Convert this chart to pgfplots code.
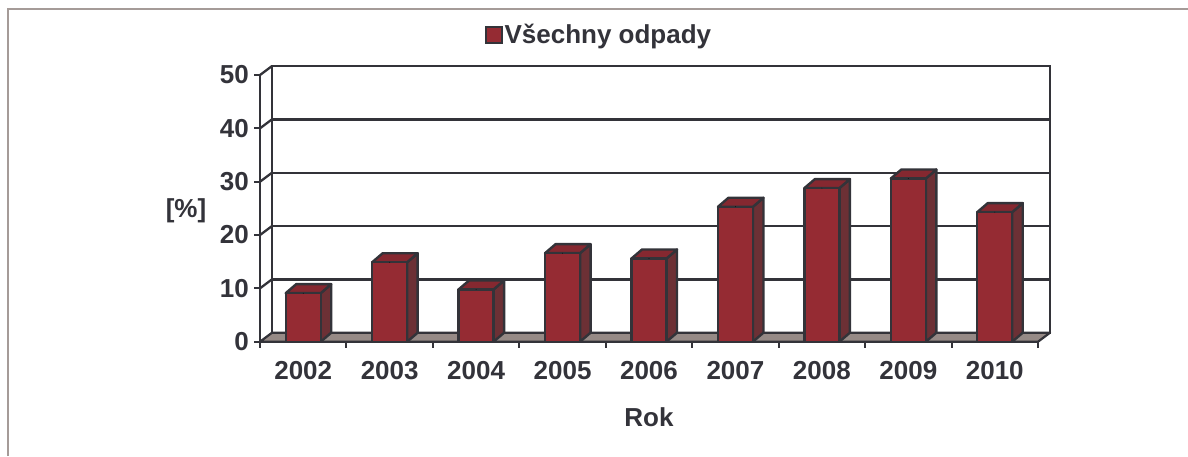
\documentclass[border=0pt]{standalone}
\usepackage{pgfplots}
\pgfplotsset{compat=1.18}
\usepackage{fontspec}
\setmainfont{Liberation Sans}
\definecolor{barfront}{RGB}{149,43,51}
\definecolor{barside}{RGB}{108,48,53}
\definecolor{bartop}{RGB}{133,40,48}
\definecolor{edge}{RGB}{51,51,57}
\definecolor{floorc}{RGB}{150,138,134}
\definecolor{framec}{RGB}{165,155,152}
\definecolor{txt}{RGB}{51,51,58}
\newcommand\bigfont{\bfseries\fontsize{26}{30}\selectfont}
\begin{document}
\begin{tikzpicture}
\fill[white] (0pt,0pt) rectangle (1188pt,456pt);
\path[use as bounding box] (0pt,0pt) rectangle (1188pt,456pt);
\draw[framec, line width=2.5pt] (8pt,0pt) -- (8pt,447pt) -- (1188pt,447pt);
% back wall
\begin{axis}[at={(272pt,123.3pt)}, anchor=south west, scale only axis,
  width=778pt, height=266.667pt,
  xmin=-0.5, xmax=8.5, ymin=0, ymax=50,
  xtick=\empty, ytick={10,20,30,40}, yticklabels={}, major tick length=0pt,
  ymajorgrids, major grid style={draw=edge, line width=2.3pt},
  axis line style={draw=edge, line width=2.3pt}, tick style={draw=none}]
\end{axis}
% front
\begin{axis}[at={(260pt,114.3pt)}, anchor=south west, scale only axis,
  width=778pt, height=266.667pt,
  xmin=-0.5, xmax=8.5, ymin=0, ymax=50, clip=false,
  axis x line=bottom, axis y line=left,
  axis line style={-, draw=edge, line width=2.3pt},
  tick align=outside, major tick length=6pt,
  tick style={draw=edge, line width=2pt},
  xtick={-0.5,0.5,1.5,2.5,3.5,4.5,5.5,6.5,7.5,8.5},
  x tick label as interval,
  xticklabels={2002,2003,2004,2005,2006,2007,2008,2009,2010},
  ytick={0,10,20,30,40,50},
  ticklabel style={font=\bigfont, text=txt},
  /pgf/number format/assume math mode=true,
  xticklabel style={inner sep=0pt, yshift=-13pt},
  yticklabel style={inner sep=0pt, xshift=-5pt},
  xlabel={Rok}, ylabel={[\%]},
  label style={font=\bigfont, text=txt},
  xlabel style={at={(axis description cs:0.5,-0.285)}, anchor=center},
  ylabel style={at={(axis description cs:-0.0951,0.49)}, anchor=center, rotate=-90},
  legend style={at={(0.4357,1.15)}, anchor=center, draw=none, fill=none,
    font=\bigfont, text=txt, inner sep=0pt,
    /tikz/every even column/.append style={column sep=3pt}},
]
\filldraw[fill=floorc, draw=edge, line width=2.2pt, line join=round]
  (axis cs:-0.5,0) -- (axis cs:8.5,0) -- ([shift={(12pt,9pt)}]axis cs:8.5,0)
  -- ([shift={(12pt,9pt)}]axis cs:-0.5,0) -- cycle;
\pgfplotsinvokeforeach{10,20,30,40,50}{\draw[edge, line width=2.3pt] (axis cs:-0.5,#1) -- ++(12pt,9pt);}
\addplot[only marks, scatter, mark=*, mark size=0.1pt, mark options={draw=none, fill=none},
  visualization depends on={\thisrow{y}*5.33333 \as \hh},
  scatter/@pre marker code/.code={%
    \pgfmathsetlengthmacro\H{\hh*1pt}%
    \filldraw[fill=barside, draw=edge, line width=2.4pt, line join=round]
      (17.5pt,0pt) -- ++(10.5pt,9pt) -- ++(0pt,-\H) -- ++(-10.5pt,-9pt) -- cycle;
    \filldraw[fill=bartop, draw=edge, line width=2.4pt, line join=round]
      (-17.5pt,0pt) -- ++(10.5pt,9pt) -- ++(35pt,0pt) -- ++(-10.5pt,-9pt) -- cycle;
    \filldraw[fill=barfront, draw=edge, line width=2.4pt, line join=round]
      (-17.5pt,-\H) rectangle (17.5pt,0pt);
  },
  scatter/@post marker code/.code={},
  legend image code/.code={\filldraw[fill=barfront, draw=edge, line width=1.8pt] (0pt,-8pt) rectangle (16pt,8pt);}
] table[row sep=\\] {x y\\ 0 9.1\\ 1 14.9\\ 2 9.8\\ 3 16.6\\ 4 15.6\\ 5 25.3\\ 6 28.8\\ 7 30.6\\ 8 24.3\\};
\addlegendentry{Všechny odpady}
\end{axis}
\end{tikzpicture}
\end{document}
